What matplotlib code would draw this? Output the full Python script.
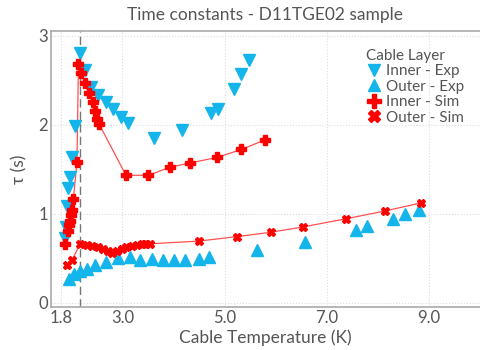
import numpy as np
import matplotlib
matplotlib.use("Agg")
import matplotlib.pyplot as plt

plt.rcParams['font.family'] = ['Lato', 'DejaVu Sans']

# data
inner_exp_T = [1.88, 1.89, 1.91, 1.93, 1.97, 2.01, 2.08, 2.17, 2.27, 2.39, 2.53, 2.68, 2.82,
               2.97, 3.10, 3.62, 4.16, 4.74, 4.88, 5.18, 5.33, 5.47]
inner_exp_tau = [0.73, 0.85, 1.08, 1.29, 1.41, 1.64, 1.98, 2.80, 2.61, 2.42, 2.33, 2.25, 2.18,
                 2.09, 2.02, 1.85, 1.94, 2.13, 2.18, 2.40, 2.57, 2.73]

outer_exp_T = [1.96, 2.06, 2.17, 2.30, 2.47, 2.67, 2.91, 3.15, 3.35, 3.57, 3.79, 4.01, 4.22,
               4.50, 4.69, 5.64, 6.57, 7.57, 7.79, 8.30, 8.54, 8.80]
outer_exp_tau = [0.26, 0.32, 0.35, 0.38, 0.42, 0.46, 0.50, 0.51, 0.48, 0.49, 0.48, 0.48, 0.48,
                 0.49, 0.51, 0.59, 0.68, 0.82, 0.86, 0.94, 0.99, 1.04]

inner_sim_T = [1.88, 1.93, 1.95, 1.97, 1.99, 2.02, 2.04, 2.11, 2.14, 2.19, 2.27, 2.34, 2.42,
               2.47, 2.51, 2.54, 3.07, 3.51, 3.93, 4.33, 4.85, 5.33, 5.80]
inner_sim_tau = [0.66, 0.80, 0.87, 0.92, 0.98, 1.04, 1.16, 1.58, 2.68, 2.58, 2.47, 2.36, 2.25,
                 2.15, 2.06, 2.01, 1.43, 1.43, 1.52, 1.57, 1.63, 1.72, 1.83]

outer_sim_T = [1.91, 2.02, 2.17, 2.30, 2.41, 2.52, 2.62, 2.71, 2.80, 2.90, 2.99, 3.08, 3.18,
               3.28, 3.38, 3.45, 3.54, 4.49, 5.24, 5.91, 6.54, 7.37, 8.15, 8.85]
outer_sim_tau = [0.42, 0.48, 0.66, 0.65, 0.64, 0.62, 0.60, 0.58, 0.56, 0.58, 0.60, 0.62, 0.64,
                 0.65, 0.66, 0.66, 0.66, 0.69, 0.74, 0.79, 0.85, 0.94, 1.03, 1.12]

T_lambda = 2.17

blue = '#13b5ea'
red = '#ff0000'
txt = '#555555'

fig = plt.figure(figsize=(4.8, 3.5), dpi=100)
ax = fig.add_axes([0.106, 0.123, 0.894, 0.788])

ax.plot(inner_sim_T, inner_sim_tau, '-', color='#ff5050', lw=0.9, zorder=2)
ax.plot(outer_sim_T, outer_sim_tau, '-', color='#ff5050', lw=0.9, zorder=2)

ax.plot(inner_exp_T, inner_exp_tau, 'v', color=blue, ms=9, ls='none', label='Inner - Exp', zorder=3)
ax.plot(outer_exp_T, outer_exp_tau, '^', color=blue, ms=9, ls='none', label='Outer - Exp', zorder=3)
ax.plot(inner_sim_T, inner_sim_tau, 'P', color=red, ms=7, ls='none', label='Inner - Sim', zorder=4)
ax.plot(outer_sim_T, outer_sim_tau, 'X', color=red, ms=5.5, ls='none', label='Outer - Sim', zorder=4)

ax.axvline(T_lambda, color='#777777', ls=(0, (6, 3)), lw=1, zorder=1)

ax.set_xlim(1.6, 10.0)
ax.set_ylim(-0.05, 3.05)
ax.set_xticks([1.8, 3.0, 5.0, 7.0, 9.0])
ax.set_xticklabels(['1.8', '3.0', '5.0', '7.0', '9.0'])
ax.set_yticks([0, 1, 2, 3])
ax.grid(True, color='#dddddd', ls=':', lw=0.8)
ax.set_axisbelow(True)
ax.tick_params(length=0, pad=2, labelsize=12, labelcolor=txt)
for s in ['left', 'bottom', 'top']:
    ax.spines[s].set_color('#aaaaaa')
    ax.spines[s].set_linewidth(1.2)
ax.spines['right'].set_visible(False)

ax.set_title('Time constants - D11TGE02 sample', fontsize=12.5, color=txt, pad=8)
ax.set_xlabel('Cable Temperature (K)', fontsize=12.5, color=txt, labelpad=3)
ax.set_ylabel('τ (s)', fontsize=12.5, color=txt, labelpad=8)

leg = ax.legend(title='Cable Layer', loc='upper right', bbox_to_anchor=(0.985, 0.97),
                frameon=False, fontsize=11, title_fontsize=11, handletextpad=0.3,
                handlelength=1.0, borderaxespad=0.2, labelspacing=0.1)
leg._legend_box.align = 'left'
for t in leg.get_texts():
    t.set_color(txt)
leg.get_title().set_color(txt)
leg.legend_handles[2].set_markersize(10)
leg.legend_handles[3].set_markersize(8.5)

fig.savefig('out.png', dpi=100)
